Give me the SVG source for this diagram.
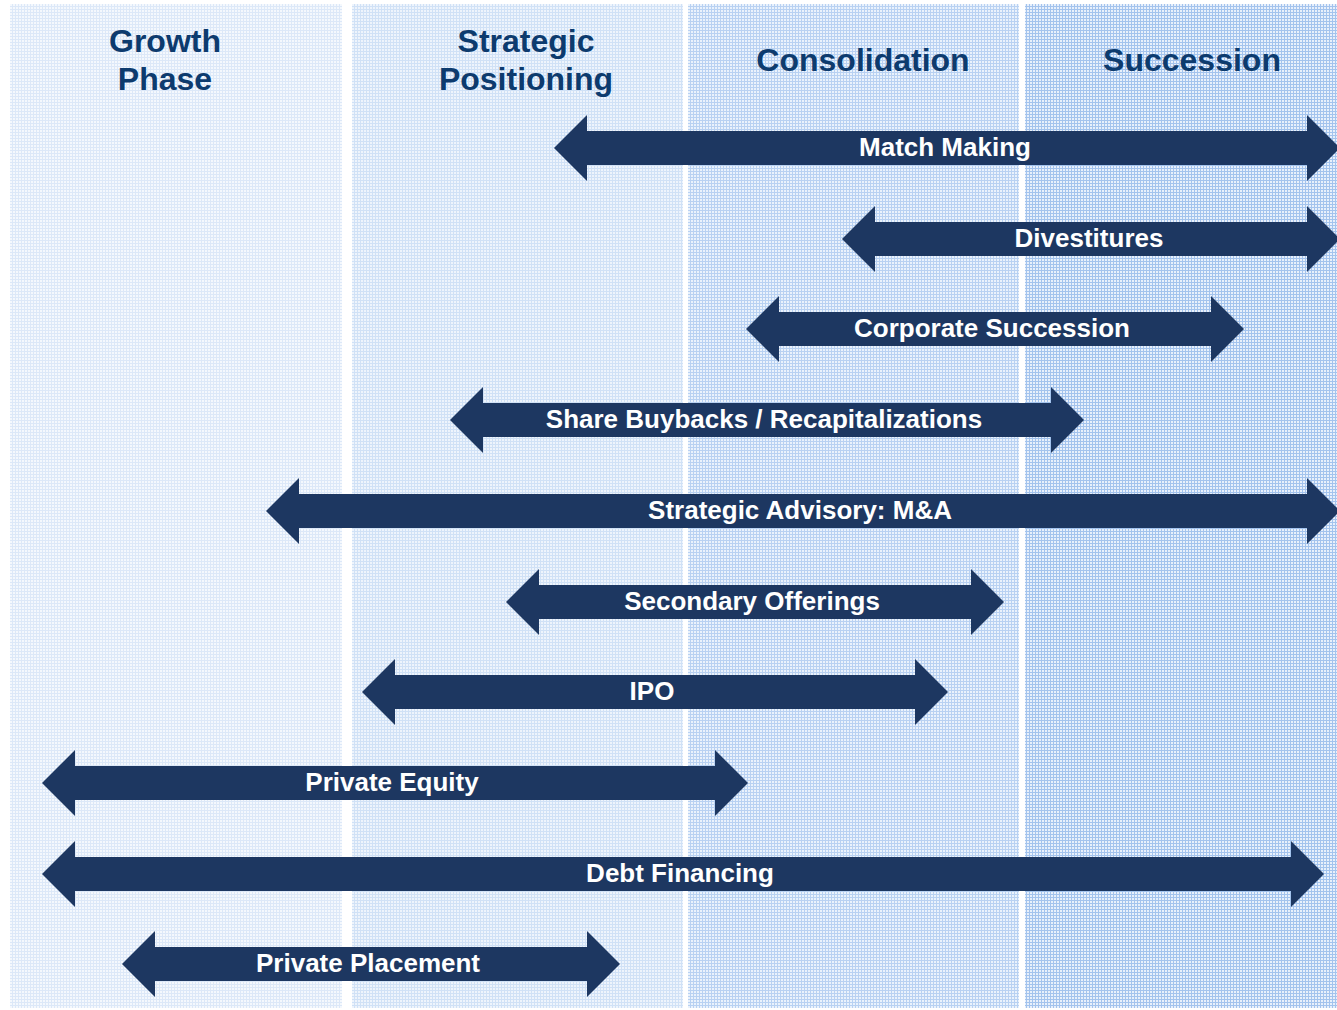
<svg xmlns="http://www.w3.org/2000/svg" width="1337" height="1010" viewBox="0 0 1337 1010">
<style>
.hdr{font-family:"Liberation Sans",Arial,sans-serif;font-weight:bold;font-size:32px;fill:#0d3b6e;text-anchor:middle}
.arr{fill:#1d3761}
.lbl{font-family:"Liberation Sans",Arial,sans-serif;font-weight:bold;font-size:26px;fill:#ffffff;text-anchor:middle}
</style>
<defs>
<pattern id="p1" width="3" height="3" patternUnits="userSpaceOnUse"><rect width="3" height="3" fill="#f4f8fd"/><rect width="1" height="3" fill="#dce8f8"/><rect width="3" height="1" fill="#dce8f8"/></pattern>
<pattern id="p2" width="3" height="3" patternUnits="userSpaceOnUse"><rect width="3" height="3" fill="#eef4fc"/><rect width="1" height="3" fill="#d0e1f6"/><rect width="3" height="1" fill="#d0e1f6"/></pattern>
<pattern id="p3" width="3" height="3" patternUnits="userSpaceOnUse"><rect width="3" height="3" fill="#eaf2fc"/><rect width="1" height="3" fill="#b8d1f2"/><rect width="3" height="1" fill="#b8d1f2"/></pattern>
<pattern id="p4" width="3" height="3" patternUnits="userSpaceOnUse"><rect width="3" height="3" fill="#e8f0fb"/><rect width="1" height="3" fill="#a3c3ed"/><rect width="3" height="1" fill="#a3c3ed"/></pattern>
</defs>
<rect width="1337" height="1010" fill="#ffffff"/>
<g id="columns">
<rect x="10" y="4" width="332" height="1004" fill="url(#p1)"/>
<rect x="352" y="4" width="331" height="1004" fill="url(#p2)"/>
<rect x="688" y="4" width="331" height="1004" fill="url(#p3)"/>
<rect x="1025" y="4" width="312" height="1004" fill="url(#p4)"/>
</g>
<g id="headers">
<text class="hdr" x="165" y="52">Growth</text>
<text class="hdr" x="165" y="90">Phase</text>
<text class="hdr" x="526" y="52">Strategic</text>
<text class="hdr" x="526" y="90">Positioning</text>
<text class="hdr" x="863" y="71">Consolidation</text>
<text class="hdr" x="1192" y="71">Succession</text>
</g>
<g id="connectors">
<g id="match-making"><polygon class="arr" points="554,148 587,115 587,131 1307,131 1307,115 1340,148 1307,181 1307,165 587,165 587,181"/><text class="lbl" x="945" y="156">Match Making</text></g>
<g id="divestitures"><polygon class="arr" points="842,239 875,206 875,222 1307,222 1307,206 1340,239 1307,272 1307,256 875,256 875,272"/><text class="lbl" x="1089" y="247">Divestitures</text></g>
<g id="corporate-succession"><polygon class="arr" points="746,329 779,296 779,312 1211,312 1211,296 1244,329 1211,362 1211,346 779,346 779,362"/><text class="lbl" x="992" y="337">Corporate Succession</text></g>
<g id="share-buybacks"><polygon class="arr" points="450,420 483,387 483,403 1051,403 1051,387 1084,420 1051,453 1051,437 483,437 483,453"/><text class="lbl" x="764" y="428">Share Buybacks / Recapitalizations</text></g>
<g id="strategic-advisory"><polygon class="arr" points="266,511 299,478 299,494 1307,494 1307,478 1340,511 1307,544 1307,528 299,528 299,544"/><text class="lbl" x="800" y="519">Strategic Advisory: M&amp;A</text></g>
<g id="secondary-offerings"><polygon class="arr" points="506,602 539,569 539,585 971,585 971,569 1004,602 971,635 971,619 539,619 539,635"/><text class="lbl" x="752" y="610">Secondary Offerings</text></g>
<g id="ipo"><polygon class="arr" points="362,692 395,659 395,675 915,675 915,659 948,692 915,725 915,709 395,709 395,725"/><text class="lbl" x="652" y="700">IPO</text></g>
<g id="private-equity"><polygon class="arr" points="42,783 75,750 75,766 715,766 715,750 748,783 715,816 715,800 75,800 75,816"/><text class="lbl" x="392" y="791">Private Equity</text></g>
<g id="debt-financing"><polygon class="arr" points="42,874 75,841 75,857 1291,857 1291,841 1324,874 1291,907 1291,891 75,891 75,907"/><text class="lbl" x="680" y="882">Debt Financing</text></g>
<g id="private-placement"><polygon class="arr" points="122,964 155,931 155,947 587,947 587,931 620,964 587,997 587,981 155,981 155,997"/><text class="lbl" x="368" y="972">Private Placement</text></g>
</g>
</svg>
